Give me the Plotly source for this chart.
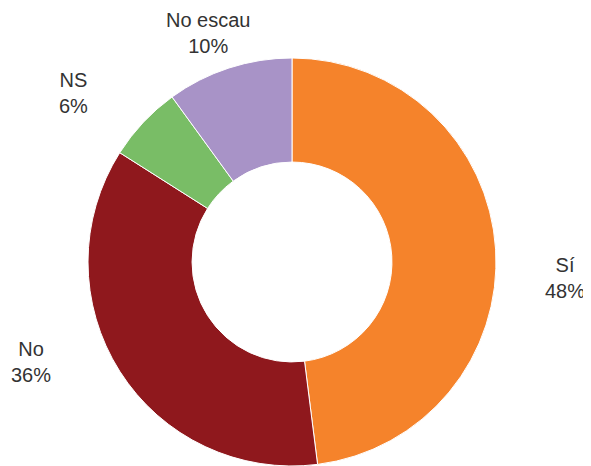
import plotly.graph_objects as go

categories = ["Sí", "No", "NS", "No escau"]
values = [48, 36, 6, 10]
colors = ["#f5832b", "#8f181d", "#79bd66", "#a893c7"]

# page body has an 8px margin; work in figure pixel coordinates
OFF = 8
W, H = 591 - OFF, 466 - OFF
cx, cy, r = 292 - OFF, 262 - OFF, 204

fig = go.Figure(go.Pie(
    labels=categories,
    values=values,
    hole=0.49,
    sort=False,
    direction="clockwise",
    rotation=0,
    marker=dict(colors=colors, line=dict(color="white", width=1)),
    textinfo="none",
    hoverinfo="label+percent",
    domain=dict(x=[(cx - r) / W, (cx + r) / W], y=[max(0, (H - cy - r) / H), (H - cy + r) / H]),
    showlegend=False,
))

# label positions (window pixels from top-left) for text blocks
label_pos = {"Sí": (565, 278), "No": (31, 362), "NS": (73, 93), "No escau": (208, 33)}
total = sum(values)
for cat, v in zip(categories, values):
    px, py = label_pos[cat]
    fig.add_annotation(
        x=(px - OFF) / W, y=1 - (py - OFF) / H, xref="paper", yref="paper",
        text=f"{cat}<br>{round(100 * v / total)}%",
        showarrow=False, xanchor="center", yanchor="middle", align="center",
        font=dict(family="Liberation Sans, Arial, sans-serif", size=20, color="#333333"),
    )

fig.update_layout(
    width=W, height=H,
    margin=dict(l=0, r=0, t=0, b=0),
    paper_bgcolor="white", plot_bgcolor="white",
)
fig.write_html("out.html")
